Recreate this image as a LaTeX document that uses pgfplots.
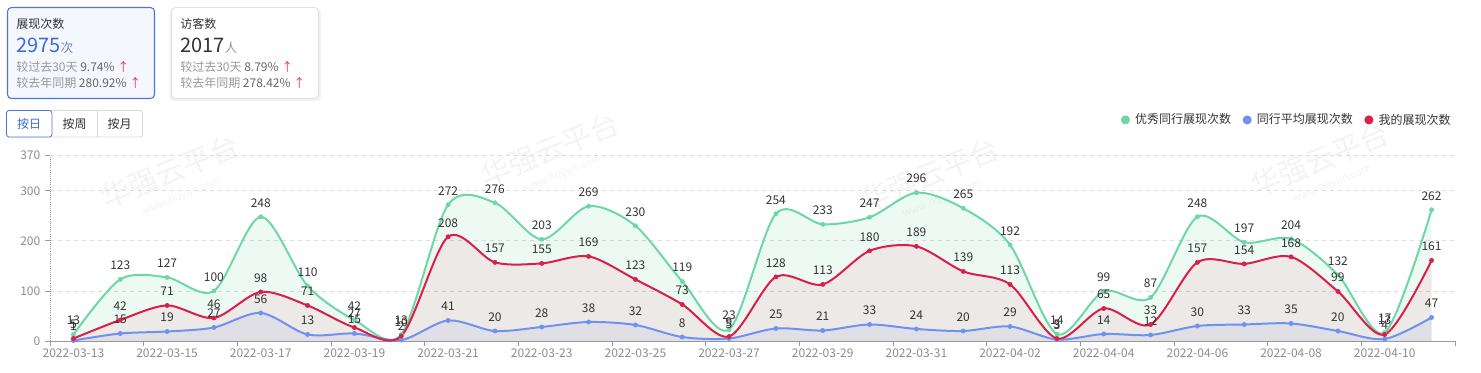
\documentclass[border=0pt]{standalone}
\usepackage{fontspec}
\setmainfont{Noto Sans CJK SC}
\usepackage{pgfplots}
\usepackage{pgfplotstable}
\pgfplotsset{compat=1.18}

\definecolor{cg}{HTML}{6ED7A5}
\definecolor{cb}{HTML}{7091F0}
\definecolor{cr}{HTML}{DB1F48}
\definecolor{clab}{HTML}{333333}
\definecolor{tickgray}{HTML}{8C8C8C}
\definecolor{axgray}{HTML}{9A9A9A}
\definecolor{gridgray}{HTML}{DCDCDC}
\definecolor{cardblue}{HTML}{4A78D8}
\definecolor{cardbg}{HTML}{F4F7FE}
\definecolor{numblue}{HTML}{3B6BD6}
\definecolor{unitblue}{HTML}{6F86C0}
\definecolor{c99}{HTML}{999999}
\definecolor{c66}{HTML}{666666}
\definecolor{upred}{HTML}{E8363D}
\definecolor{btngray}{HTML}{D9D9D9}
\definecolor{wm}{HTML}{F3F3F3}

\pgfplotstableread{
x g b r
0 13 1 5
1 123 15 42
2 127 19 71
3 100 27 46
4 248 56 98
5 110 13 71
6 42 15 27
7 13 2 10
8 272 41 208
9 276 20 157
10 203 28 155
11 269 38 169
12 230 32 123
13 119 8 73
14 23 5 9
15 254 25 128
16 233 21 113
17 247 33 180
18 296 24 189
19 265 20 139
20 192 29 113
21 14 3 5
22 99 14 65
23 87 12 33
24 248 30 157
25 197 33 154
26 204 35 168
27 132 20 99
28 17 4 13
29 262 47 161
}\data

\begin{document}
\begin{tikzpicture}[font=\fontsize{9}{11}\selectfont]
\begin{scope}[x=0.75pt,y=-0.75pt]
\useasboundingbox (0,0) rectangle (1481,372);
% card 1
\draw[draw=cardblue, fill=cardbg, rounded corners=3pt, line width=0.8pt] (7.5,7.5) rectangle (154.5,98.5);
\node[anchor=base west, inner sep=0pt, text=clab] at (16,28.5) {展现次数};
\node[anchor=base west, inner sep=0pt] at (16,52) {\textcolor{numblue}{\fontsize{15}{18}\selectfont 2975}\textcolor{unitblue}{\fontsize{9.5}{11}\selectfont 次}};
\node[anchor=base west, inner sep=0pt] at (16,71) {\textcolor{c99}{较过去30天} \textcolor{c66}{9.74\%} \textcolor{upred}{↑}};
\node[anchor=base west, inner sep=0pt] at (16,87.5) {\textcolor{c99}{较去年同期} \textcolor{c66}{280.92\%} \textcolor{upred}{↑}};
% card 2
\fill[black, opacity=0.05, rounded corners=3pt] (169.5,8) rectangle (321,101);
\draw[draw=black!12, fill=white, rounded corners=3pt, line width=0.6pt] (171.5,7.5) rectangle (318.5,98.5);
\node[anchor=base west, inner sep=0pt, text=clab] at (180,28.5) {访客数};
\node[anchor=base west, inner sep=0pt] at (180,52) {\textcolor{clab}{\fontsize{15}{18}\selectfont 2017}\textcolor{c99}{\fontsize{9.5}{11}\selectfont 人}};
\node[anchor=base west, inner sep=0pt] at (180,71) {\textcolor{c99}{较过去30天} \textcolor{c66}{8.79\%} \textcolor{upred}{↑}};
\node[anchor=base west, inner sep=0pt] at (180,87.5) {\textcolor{c99}{较去年同期} \textcolor{c66}{278.42\%} \textcolor{upred}{↑}};
% buttons
\draw[draw=btngray, fill=white, rounded corners=2pt, line width=0.6pt] (6.5,110.5) rectangle (142.5,137);
\draw[draw=btngray, line width=0.6pt] (97,110.5) -- (97,137);
\draw[draw=cardblue, fill=white, rounded corners=2pt, line width=0.6pt] (6.5,110.5) rectangle (52,137);
\node[text=numblue] at (29,124) {按日};
\node[text=clab] at (74.5,124) {按周};
\node[text=clab] at (119.5,124) {按月};
% faint watermarks
\foreach \wx/\wy in {170/172, 550/150, 930/175, 1320/160}{
  \node[rotate=22, text=wm, font=\fontsize{22}{22}\selectfont] at (\wx,\wy) {华强云平台};
  \node[rotate=22, text=wm, font=\fontsize{8}{8}\selectfont] at (\wx+12,\wy+24) {www.hqyun.com};
}
\end{scope}

\begin{axis}[
  at={(37.5pt,-255.75pt)}, anchor=south west,
  scale only axis, width=1053.75pt, height=139pt,
  xmin=-0.5, xmax=29.5, ymin=0, ymax=370,
  clip=false,
  axis x line*=bottom, axis y line*=left,
  x axis line style={draw=axgray, line width=0.75pt, -},
  y axis line style={draw=axgray, densely dotted, line width=0.6pt, -},
  xtick={-0.5,1.5,...,29.5}, xticklabels={},
  extra x ticks={0,2,...,28},
  extra x tick labels={2022-03-13,2022-03-15,2022-03-17,2022-03-19,2022-03-21,2022-03-23,2022-03-25,2022-03-27,2022-03-29,2022-03-31,2022-04-02,2022-04-04,2022-04-06,2022-04-08,2022-04-10},
  extra x tick style={grid=none, major tick length=0pt, xticklabel style={yshift=-2pt}},
  ytick={0,100,200,300,370},
  tick align=outside, major tick length=3.75pt,
  tick style={draw=axgray, line width=0.6pt},
  ymajorgrids, grid style={dashed, draw=gridgray, line width=0.5pt},
  ticklabel style={font=\fontsize{9}{10}\selectfont, text=tickgray},
  /pgf/number format/assume math mode=true,
  every node near coord/.append style={font=\fontsize{9}{10}\selectfont, text=clab, inner sep=0pt, anchor=south, yshift=7pt},
  legend image code/.code={\fill (0pt,0pt) circle (2.6pt);},
  legend columns=3,
  legend style={at={(1,1)}, anchor=east, yshift=26.8pt, xshift=-3pt, draw=none, fill=none, inner sep=0pt,
    font=\fontsize{9}{11}\selectfont, text=clab,
    nodes={inner sep=0pt},
    /tikz/every odd column/.append style={column sep=4pt},
    /tikz/every even column/.append style={column sep=8.6pt}},
]
\addplot[draw=none, fill=cg, fill opacity=0.12, smooth, forget plot] table[x=x,y=g]{\data} \closedcycle;
\addplot[draw=none, fill=cb, fill opacity=0.10, smooth, forget plot] table[x=x,y=b]{\data} \closedcycle;
\addplot[draw=none, fill=cr, fill opacity=0.08, smooth, forget plot] table[x=x,y=r]{\data} \closedcycle;

\addplot[color=cg, line width=1.5pt, smooth, mark=*, mark size=1.6pt, mark options={solid, line width=0.4pt}, nodes near coords] table[x=x,y=g]{\data};
\addlegendentry{优秀同行展现次数}
\addplot[color=cb, line width=1.5pt, smooth, mark=*, mark size=1.6pt, mark options={solid, line width=0.4pt}, nodes near coords] table[x=x,y=b]{\data};
\addlegendentry{同行平均展现次数}
\addplot[color=cr, line width=1.5pt, smooth, mark=*, mark size=1.6pt, mark options={solid, line width=0.4pt}, nodes near coords] table[x=x,y=r]{\data};
\addlegendentry{我的展现次数}
\end{axis}
\end{tikzpicture}
\end{document}
